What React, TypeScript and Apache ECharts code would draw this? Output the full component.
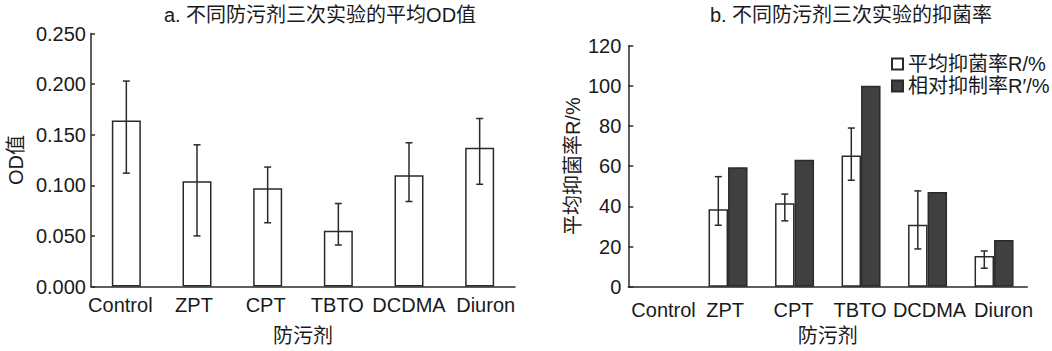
import React, { useEffect, useRef } from "react";
import * as echarts from "echarts";

const categories = ["Control", "ZPT", "CPT", "TBTO", "DCDMA", "Diuron"];

// Chart a: mean OD values with error range
const odMean = [0.164, 0.104, 0.097, 0.055, 0.110, 0.137];
const odLow = [0.112, 0.050, 0.063, 0.041, 0.084, 0.101];
const odHigh = [0.203, 0.140, 0.118, 0.082, 0.142, 0.166];

// Chart b: inhibition rates
const rateMean = [0, 38.6, 41.6, 65.3, 30.8, 15.3];
const rateLow = [0, 30.6, 32.8, 53.0, 18.8, 9.2];
const rateHigh = [0, 54.8, 46.1, 79.0, 47.7, 17.8];
const relRate = [0, 59.5, 63.2, 100, 47.2, 23.3];

const titleA = "a. 不同防污剂三次实验的平均OD值";
const titleB = "b. 不同防污剂三次实验的抑菌率";
const legendNames = ["平均抑菌率R/%", "相对抑制率R′/%"];

const FONT = '"Liberation Sans", Arial, "Noto Sans CJK SC", sans-serif';
const FS = 20;
const TXT = "#1a1a1a";
const LINE = "#2a2a2a";

// horizontal nudges of category labels (px) to mimic the original layout
const labelShiftA = [-6, -3, -2, -1, 0, 6];
const labelShiftB = [2, -3, -1, -1, 2, 9.5];

const hideZero = (arr: number[]) => arr.map((v) => (v === 0 ? "-" : v));

const shiftedCats = (shifts: number[]) =>
  categories.map((c, i) => {
    const s = shifts[i];
    const pad = s >= 0 ? [0, 0, 0, 2 * s] : [0, -2 * s, 0, 0];
    return { value: c, textStyle: { padding: pad } };
  });

function errRender(offset: number, cap: number) {
  return (params: any, api: any) => {
    const x = api.value(0);
    const lo = api.coord([x, api.value(1)]);
    const hi = api.coord([x, api.value(2)]);
    const cx = lo[0] + offset;
    const st = { stroke: LINE, lineWidth: 1.5 };
    return {
      type: "group",
      children: [
        { type: "line", shape: { x1: cx, y1: lo[1], x2: cx, y2: hi[1] }, style: st },
        { type: "line", shape: { x1: cx - cap, y1: lo[1], x2: cx + cap, y2: lo[1] }, style: st },
        { type: "line", shape: { x1: cx - cap, y1: hi[1], x2: cx + cap, y2: hi[1] }, style: st },
      ],
    };
  };
}

export default function App() {
  const ref = useRef<HTMLDivElement>(null);
  useEffect(() => {
    if (!ref.current) return;
    const chart = echarts.init(ref.current, undefined, { renderer: "svg" });
    const axisLine = { lineStyle: { color: LINE, width: 1.5 } };
    const xAxisCommon = (gridIndex: number, margin: number, gap: number, shifts: number[]) => ({
      type: "category",
      gridIndex,
      data: shiftedCats(shifts),
      axisLine,
      axisTick: { inside: true, length: 6, lineStyle: { color: LINE, width: 1.5 } },
      axisLabel: { color: TXT, fontSize: FS, fontFamily: FONT, margin, interval: 0 },
      name: "防污剂",
      nameLocation: "middle",
      nameGap: gap,
      nameTextStyle: { color: TXT, fontSize: FS, fontFamily: FONT },
      splitLine: { show: false },
    });
    chart.setOption({
      animation: false,
      backgroundColor: "#ffffff",
      textStyle: { fontFamily: FONT },
      grid: [
        { left: 91, top: 33.5, width: 424, height: 253 },
        { left: 628.3, top: 45.7, width: 399, height: 241 },
      ],
      xAxis: [xAxisCommon(0, 8, 39, labelShiftA), xAxisCommon(1, 13, 39, labelShiftB)],
      yAxis: [
        {
          type: "value",
          gridIndex: 0,
          min: 0,
          max: 0.25,
          interval: 0.05,
          axisLine: { show: true, ...axisLine },
          axisTick: { show: true, inside: true, length: 4, lineStyle: { color: LINE, width: 1.5 } },
          axisLabel: {
            color: TXT,
            fontSize: FS,
            fontFamily: FONT,
            margin: 5,
            formatter: (v: number) => v.toFixed(3),
          },
          splitLine: { show: false },
          name: "OD值",
          nameLocation: "middle",
          nameGap: 65,
          nameTextStyle: { color: TXT, fontSize: FS, fontFamily: FONT },
        },
        {
          type: "value",
          gridIndex: 1,
          min: 0,
          max: 120,
          interval: 20,
          axisLine: { show: true, ...axisLine },
          axisTick: { show: true, inside: true, length: 5, lineStyle: { color: LINE, width: 1.5 } },
          axisLabel: { color: TXT, fontSize: FS, fontFamily: FONT, margin: 7 },
          splitLine: { show: false },
          name: "平均抑菌率R/%",
          nameLocation: "middle",
          nameGap: 45,
          nameTextStyle: { color: TXT, fontSize: FS, fontFamily: FONT },
        },
      ],
      legend: {
        orient: "vertical",
        left: 891,
        top: 54,
        itemWidth: 11,
        itemHeight: 11,
        itemGap: 2,
        icon: "rect",
        data: legendNames,
        textStyle: { color: TXT, fontSize: FS, fontFamily: FONT, padding: [0, 0, 0, 0], lineHeight: 20 },
        padding: 0,
        selectedMode: false,
      },
      series: [
        {
          type: "bar",
          xAxisIndex: 0,
          yAxisIndex: 0,
          data: odMean,
          barWidth: 29,
          itemStyle: { color: "#ffffff", borderColor: LINE, borderWidth: 1.5 },
        },
        {
          type: "custom",
          xAxisIndex: 0,
          yAxisIndex: 0,
          renderItem: errRender(0, 3.5),
          encode: { x: 0, y: [1, 2] },
          data: categories.map((_, i) => [i, odLow[i], odHigh[i]]),
          z: 5,
        },
        {
          type: "bar",
          name: legendNames[0],
          xAxisIndex: 1,
          yAxisIndex: 1,
          data: hideZero(rateMean),
          barWidth: 19.5,
          barGap: "0%",
          itemStyle: { color: "#ffffff", borderColor: LINE, borderWidth: 1.5 },
        },
        {
          type: "bar",
          name: legendNames[1],
          xAxisIndex: 1,
          yAxisIndex: 1,
          data: hideZero(relRate),
          barWidth: 19.5,
          barGap: "0%",
          itemStyle: { color: "#404040", borderColor: LINE, borderWidth: 1.5 },
        },
        {
          type: "custom",
          xAxisIndex: 1,
          yAxisIndex: 1,
          renderItem: errRender(-9.75, 3.5),
          encode: { x: 0, y: [1, 2] },
          data: categories
            .map((_, i) => [i, rateLow[i], rateHigh[i]])
            .filter((d) => d[2] > 0),
          z: 5,
        },
      ],
      graphic: [
        {
          type: "text",
          x: 320,
          y: 15,
          style: {
            text: titleA,
            align: "center",
            verticalAlign: "middle",
            fill: TXT,
            fontSize: FS,
            fontFamily: FONT,
          },
        },
        {
          type: "text",
          x: 851,
          y: 15,
          style: {
            text: titleB,
            align: "center",
            verticalAlign: "middle",
            fill: TXT,
            fontSize: FS,
            fontFamily: FONT,
          },
        },
      ],
    });
    return () => chart.dispose();
  }, []);
  return (
    <div
      ref={ref}
      style={{ position: "absolute", left: 0, top: 0, width: 1052, height: 351 }}
    />
  );
}
